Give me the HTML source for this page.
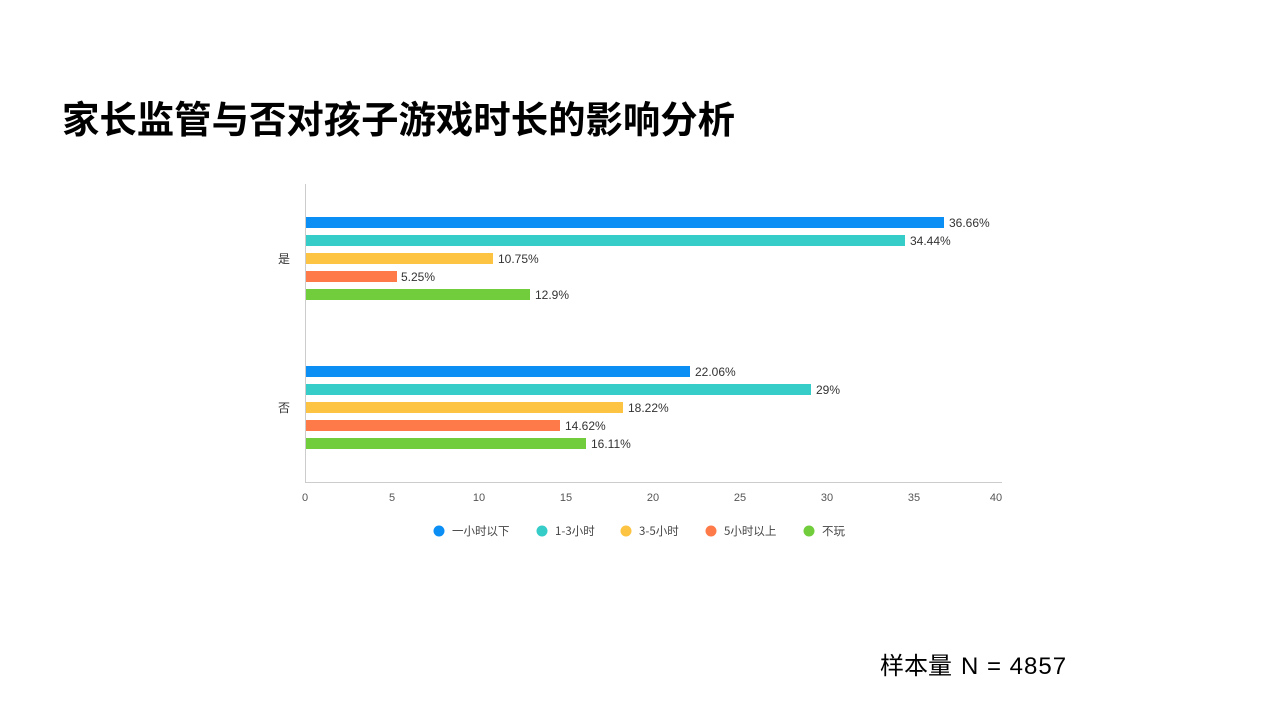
<!DOCTYPE html>
<html><head><meta charset="utf-8"><style>
body{margin:0;width:1280px;height:720px;background:#fff;overflow:hidden;font-family:"Liberation Sans","Noto Sans CJK SC",sans-serif;}
</style></head><body>
<svg width="1280" height="720" xmlns="http://www.w3.org/2000/svg" font-family="Liberation Sans, Noto Sans CJK SC, sans-serif">
<text x="62" y="133" font-size="37.4" font-weight="bold" fill="#000" font-family="Noto Sans CJK SC, sans-serif">家长监管与否对孩子游戏时长的影响分析</text>
<line x1="305.5" y1="184" x2="305.5" y2="482" stroke="#ccc"/>
<line x1="305" y1="482.5" x2="1002" y2="482.5" stroke="#ccc"/>
<g font-size="11" fill="#555" text-anchor="middle">
<text x="305" y="501">0</text><text x="392" y="501">5</text><text x="479" y="501">10</text><text x="566" y="501">15</text><text x="653" y="501">20</text><text x="740" y="501">25</text><text x="827" y="501">30</text><text x="914" y="501">35</text><text x="996" y="501">40</text>
</g>
<g font-size="12" fill="#333" font-family="Noto Sans CJK SC, sans-serif"><text x="278" y="263">是</text><text x="278" y="412">否</text></g>
<g>
<rect x="306" y="217" width="638" height="11" fill="#0c8ff4"/>
<rect x="306" y="235" width="599" height="11" fill="#36cdc9"/>
<rect x="306" y="253" width="187" height="11" fill="#fdc443"/>
<rect x="306" y="271" width="91" height="11" fill="#fe7b49"/>
<rect x="306" y="289" width="224" height="11" fill="#71cd3c"/>
<rect x="306" y="366" width="384" height="11" fill="#0c8ff4"/>
<rect x="306" y="384" width="505" height="11" fill="#36cdc9"/>
<rect x="306" y="402" width="317" height="11" fill="#fdc443"/>
<rect x="306" y="420" width="254" height="11" fill="#fe7b49"/>
<rect x="306" y="438" width="280" height="11" fill="#71cd3c"/>
</g>
<g font-size="12" fill="#333">
<text x="949" y="227">36.66%</text>
<text x="910" y="245">34.44%</text>
<text x="498" y="263">10.75%</text>
<text x="401" y="281">5.25%</text>
<text x="535" y="299">12.9%</text>
<text x="695" y="376">22.06%</text>
<text x="816" y="394">29%</text>
<text x="628" y="412">18.22%</text>
<text x="565" y="430">14.62%</text>
<text x="591" y="448">16.11%</text>
</g>
<g font-size="11.5" fill="#444" font-family="Noto Sans CJK SC, sans-serif">
<circle cx="439" cy="531" r="5.5" fill="#0c8ff4"/><text x="452" y="535">一小时以下</text>
<circle cx="542" cy="531" r="5.5" fill="#36cdc9"/><text x="555" y="535">1-3小时</text>
<circle cx="626" cy="531" r="5.5" fill="#fdc443"/><text x="639" y="535">3-5小时</text>
<circle cx="711" cy="531" r="5.5" fill="#fe7b49"/><text x="724" y="535">5小时以上</text>
<circle cx="809" cy="531" r="5.5" fill="#71cd3c"/><text x="822" y="535">不玩</text>
</g>
<text x="880" y="674" font-size="24" fill="#000"><tspan font-family="Noto Sans CJK SC, sans-serif">样本量</tspan><tspan font-family="Liberation Sans, sans-serif" dx="9" letter-spacing="1">N = 4857</tspan></text>
</svg>
</body></html>
